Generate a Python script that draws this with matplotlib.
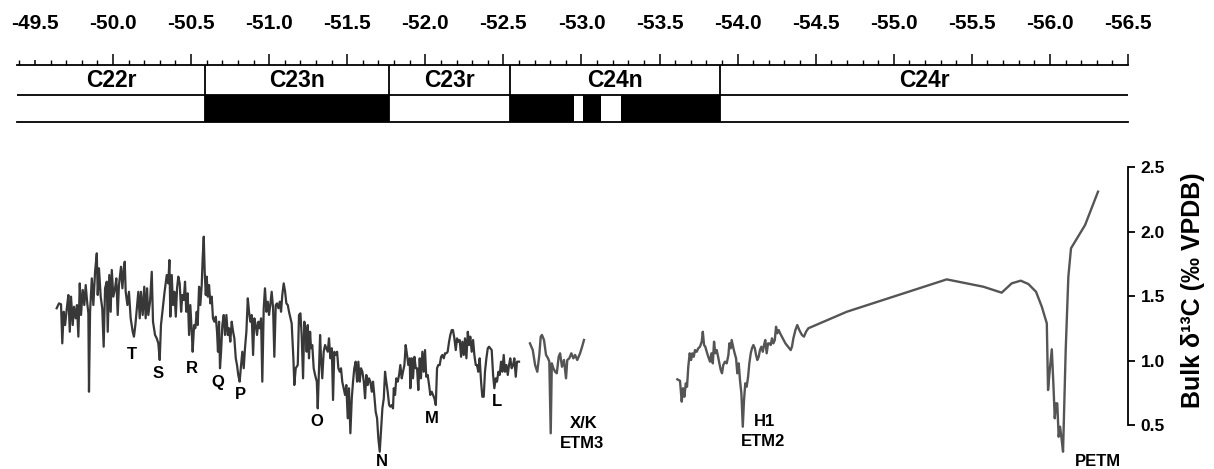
import numpy as np
import matplotlib
matplotlib.use("Agg")
import matplotlib.pyplot as plt

plt.rcParams['font.family'] = ['Liberation Sans', 'DejaVu Sans']
plt.rcParams['font.weight'] = 'bold'
plt.rcParams['axes.labelweight'] = 'bold'

# age (Ma, plotted as negative numbers) and bulk d13C
seg1_age = [
    -49.639, -49.654, -49.667, -49.675, -49.684, -49.693, -49.704, -49.714, -49.723, -49.731,
    -49.742, -49.750, -49.761, -49.769, -49.778, -49.787, -49.795, -49.806, -49.816, -49.825,
    -49.834, -49.842, -49.846, -49.853, -49.864, -49.874, -49.885, -49.896, -49.902, -49.910,
    -49.921, -49.931, -49.940, -49.949, -49.960, -49.966, -49.976, -49.985, -49.992, -50.002,
    -50.013, -50.021, -50.030, -50.038, -50.051, -50.060, -50.069, -50.075, -50.081, -50.092,
    -50.102, -50.113, -50.126, -50.134, -50.143, -50.154, -50.162, -50.171, -50.179, -50.190,
    -50.200, -50.209, -50.218, -50.226, -50.237, -50.248, -50.256, -50.269, -50.280, -50.290,
    -50.299, -50.307, -50.316, -50.329,
    -50.344, -50.354, -50.361, -50.367, -50.376, -50.384, -50.393, -50.402, -50.410, -50.418,
    -50.427, -50.436, -50.444, -50.453, -50.461, -50.469, -50.478, -50.487, -50.495, -50.504,
    -50.510, -50.519, -50.527, -50.536, -50.542, -50.551, -50.559, -50.568, -50.574, -50.581,
    -50.587, -50.594, -50.600, -50.607, -50.615, -50.623, -50.632, -50.640, -50.649, -50.658,
    -50.666, -50.672, -50.679, -50.685, -50.692, -50.700, -50.709, -50.717, -50.726, -50.735,
    -50.743, -50.751, -50.760, -50.769, -50.777, -50.786, -50.794, -50.802, -50.811, -50.820,
    -50.828, -50.837, -50.845, -50.854, -50.863, -50.871, -50.879, -50.888, -50.897, -50.905,
    -50.914, -50.922, -50.931, -50.940, -50.948, -50.956, -50.965, -50.973, -50.982, -50.991,
    -50.999, -51.007, -51.016, -51.025, -51.033, -51.042, -51.050, -51.059, -51.068, -51.076,
    -51.084, -51.093, -51.102, -51.110, -51.119, -51.127,
    -51.144, -51.155, -51.161, -51.170, -51.183, -51.191, -51.200, -51.208, -51.217, -51.225,
    -51.234, -51.240, -51.247, -51.255, -51.262, -51.268, -51.276, -51.285, -51.294, -51.305,
    -51.311, -51.319, -51.326, -51.332, -51.340, -51.349, -51.358, -51.366, -51.375, -51.383,
    -51.392, -51.401, -51.409, -51.417, -51.426, -51.435, -51.443, -51.452, -51.460, -51.468,
    -51.477, -51.486, -51.494, -51.503, -51.511, -51.520, -51.529, -51.537, -51.545, -51.554,
    -51.563, -51.571, -51.580, -51.588, -51.597, -51.606, -51.614, -51.622, -51.631, -51.639,
    -51.648, -51.657, -51.665, -51.673, -51.682, -51.691, -51.699, -51.708, -51.716, -51.725,
    -51.734, -51.742, -51.750, -51.759, -51.768, -51.776, -51.785, -51.793, -51.798, -51.806,
    -51.814, -51.823, -51.832, -51.840, -51.849, -51.857, -51.866, -51.874, -51.883, -51.891,
    -51.900,
    -51.904, -51.913, -51.921, -51.930, -51.939, -51.947, -51.955, -51.964, -51.972, -51.981,
    -51.990, -51.998, -52.006, -52.015, -52.024, -52.032, -52.041, -52.049, -52.058, -52.067,
    -52.075, -52.083, -52.092, -52.101, -52.109, -52.118, -52.126, -52.135, -52.143, -52.152,
    -52.160, -52.169, -52.177, -52.186, -52.195, -52.203, -52.211, -52.220, -52.229, -52.237,
    -52.246, -52.254, -52.263, -52.272, -52.280, -52.288, -52.297, -52.306, -52.314, -52.323,
    -52.331, -52.339, -52.348, -52.357, -52.365, -52.374, -52.382, -52.391, -52.400, -52.408,
    -52.416, -52.425, -52.434, -52.442, -52.451, -52.459, -52.468, -52.476, -52.485, -52.493,
    -52.502, -52.510, -52.519, -52.528, -52.536, -52.544, -52.553, -52.562, -52.570, -52.579,
    -52.587, -52.600,
]
seg1_d13c = [
    1.405, 1.443, 1.436, 1.133, 1.378, 1.275, 1.405, 1.508, 1.223, 1.495,
    1.275, 1.417, 1.327, 1.430, 1.185, 1.598, 1.353, 1.547, 1.430, 1.585,
    1.456, 1.366, 0.758, 1.378, 1.637, 1.430, 1.688, 1.831, 1.508, 1.715,
    1.495, 1.405, 1.107, 1.560, 1.611, 1.223, 1.663, 1.378, 1.702, 1.495,
    1.560, 1.637, 1.353, 1.585, 1.727, 1.560, 1.715, 1.766, 1.533, 1.430,
    1.533, 1.327, 1.223, 1.185, 1.275, 1.430, 1.533, 1.327, 1.533, 1.353,
    1.572, 1.327, 1.560, 1.353, 1.456, 1.688, 1.301, 1.198, 1.172, 1.133,
    1.004, 1.275, 1.378, 1.521,
    1.663, 1.598, 1.779, 1.340, 1.663, 1.430, 1.533, 1.340, 1.560, 1.650,
    1.598, 1.378, 1.508, 1.469, 1.611, 1.378, 1.521, 1.198, 1.430, 1.223,
    1.068, 1.275, 1.250, 1.378, 1.275, 1.572, 1.430, 1.585, 1.792, 1.960,
    1.688, 1.508, 1.650, 1.495, 1.585, 1.443, 1.495, 1.327, 1.301, 1.340,
    1.223, 1.068, 1.301, 0.940, 1.068, 1.275, 1.353, 1.198, 1.353, 1.198,
    1.250, 1.146, 1.301, 1.223, 1.172, 1.017, 0.965, 0.888, 0.836, 0.965,
    1.068, 0.940, 1.095, 1.223, 1.482, 1.378, 1.301, 1.353, 1.043, 1.327,
    1.275, 1.198, 1.301, 1.250, 1.327, 0.836, 1.405, 1.560, 1.378, 1.456,
    1.353, 1.430, 1.533, 1.405, 1.029, 1.430, 1.443, 1.405, 1.456, 1.378,
    1.508, 1.598, 1.533, 1.443, 1.430, 1.378,
    1.288, 1.017, 0.810, 0.940, 0.965, 1.353, 1.366, 1.198, 0.862, 1.301,
    1.223, 1.068, 1.275, 1.017, 1.223, 1.095, 1.120, 0.940, 0.888, 0.836,
    0.629, 0.940, 1.198, 1.017, 0.862, 1.068, 1.120, 1.095, 1.068, 1.172,
    1.017, 1.095, 0.694, 1.068, 1.043, 1.068, 0.940, 0.913, 0.940, 0.836,
    0.785, 0.733, 0.810, 0.552, 0.785, 0.436, 0.707, 0.836, 0.940, 0.991,
    0.836, 0.991, 0.836, 0.940, 0.913, 0.836, 0.707, 0.888, 0.810, 0.862,
    0.836, 0.758, 0.836, 0.733, 0.603, 0.552, 0.397, 0.293, 0.448, 0.629,
    0.707, 0.913, 0.836, 0.758, 0.655, 0.642, 0.655, 0.629, 0.785, 0.733,
    0.862, 0.836, 0.888, 0.965, 0.862, 0.913, 0.965, 1.120, 1.043, 0.965,
    1.017,
    0.785, 1.017, 0.862, 1.029, 0.940, 0.940, 0.771, 1.017, 0.862, 1.068,
    0.913, 1.081, 0.874, 0.888, 0.810, 0.733, 0.758, 0.733, 0.707, 0.655,
    0.940, 0.965, 0.965, 1.029, 1.043, 1.017, 1.056, 1.056, 1.068, 1.146,
    1.198, 1.236, 1.236, 1.172, 1.081, 1.172, 1.146, 1.159, 1.029, 1.146,
    1.043, 1.172, 1.017, 1.223, 1.120, 1.185, 1.068, 1.159, 1.043, 0.965,
    0.965, 0.913, 1.017, 0.836, 0.719, 0.719, 0.913, 1.017, 1.095, 1.107,
    1.095, 1.081, 0.888, 0.785, 0.862, 0.836, 0.913, 0.888, 0.991, 0.913,
    1.043, 0.913, 0.965, 0.888, 0.965, 1.017, 0.940, 0.965, 1.017, 0.874,
    0.991, 0.991,
]

seg2_age = [
    -52.670, -52.688, -52.703, -52.717, -52.730, -52.739, -52.747, -52.760, -52.773, -52.786,
    -52.794, -52.803, -52.810, -52.820, -52.831, -52.842, -52.854, -52.863, -52.875, -52.888,
    -52.901, -52.909, -52.922, -52.935, -52.948, -52.959, -52.973, -52.991, -53.004, -53.016,
]
seg2_d13c = [
    1.133, 1.081, 0.965, 0.913, 1.043, 1.185, 1.198, 1.159, 1.043, 1.017,
    0.991, 0.436, 0.978, 0.940, 0.913, 0.901, 1.029, 1.056, 0.952, 1.004,
    0.862, 1.004, 1.017, 1.056, 1.017, 1.043, 1.004, 1.056, 1.107, 1.159,
]

seg3_age = [
    -53.614, -53.631, -53.642, -53.650, -53.659, -53.668, -53.676, -53.684, -53.693, -53.702,
    -53.710, -53.719, -53.727, -53.738, -53.748, -53.759, -53.770, -53.777, -53.785, -53.793,
    -53.802, -53.812, -53.823, -53.832, -53.841, -53.849, -53.857, -53.866, -53.875, -53.883,
    -53.892, -53.900, -53.908, -53.919, -53.930, -53.941, -53.947, -53.956, -53.962, -53.973,
    -53.981, -53.990, -53.998, -54.007, -54.015, -54.024, -54.033, -54.041, -54.049, -54.058,
    -54.067, -54.075, -54.084, -54.092, -54.101, -54.110, -54.118, -54.126, -54.135, -54.143,
    -54.152, -54.161, -54.169, -54.177, -54.186, -54.195, -54.203, -54.212, -54.220, -54.229,
    -54.238, -54.246, -54.254, -54.263, -54.272, -54.289, -54.306, -54.323, -54.340, -54.348,
    -54.357, -54.370, -54.382, -54.395, -54.412, -54.425, -54.438, -54.453, -54.699, -55.339,
    -55.574, -55.691, -55.755, -55.813, -55.862, -55.911, -55.948, -55.980, -55.988, -55.999,
    -56.012, -56.022, -56.031, -56.039, -56.047, -56.056, -56.065, -56.073, -56.084, -56.101,
    -56.118, -56.135, -56.225, -56.308,
]
seg3_d13c = [
    0.854, 0.843, 0.681, 0.785, 0.719, 0.823, 0.797, 0.952, 1.056, 1.004,
    1.056, 1.029, 1.081, 1.068, 1.095, 1.107, 1.146, 1.223, 1.120, 1.107,
    1.068, 1.029, 0.991, 1.056, 0.978, 1.146, 1.056, 1.081, 1.029, 0.978,
    0.926, 0.901, 0.965, 0.991, 0.978, 1.043, 1.133, 1.095, 1.159, 1.095,
    1.056, 1.017, 0.901, 0.978, 0.849, 0.746, 0.487, 0.694, 0.823, 0.797,
    0.874, 0.978, 1.056, 1.095, 1.120, 1.095, 1.043, 1.004, 1.029, 1.081,
    1.107, 1.068, 1.120, 1.159, 1.056, 1.133, 1.133, 1.120, 1.172, 1.133,
    1.159, 1.262, 1.211, 1.236, 1.211, 1.172, 1.133, 1.107, 1.081, 1.107,
    1.172, 1.236, 1.275, 1.236, 1.198, 1.185, 1.223, 1.250, 1.378, 1.629,
    1.572, 1.526, 1.598, 1.619, 1.593, 1.533, 1.417, 1.288, 0.771, 0.926,
    1.087, 0.823, 0.552, 0.668, 0.668, 0.409, 0.487, 0.409, 0.293, 1.081,
    1.650, 1.870, 2.050, 2.309,
]

# event labels: text, age, d13C position
event_names = ["T", "S", "R", "Q", "P", "O", "N", "M", "L", "X/K", "ETM3", "H1", "ETM2", "PETM"]
event_age = [-50.120, -50.290, -50.504, -50.668, -50.813, -51.305, -51.721, -52.041, -52.457,
             -53.012, -53.002, -54.175, -54.165, -56.310]
event_d13c = [1.043, 0.901, 0.940, 0.831, 0.733, 0.526, 0.216, 0.552, 0.681,
              0.513, 0.358, 0.526, 0.371, 0.216]

# magnetic polarity chrons
chron_names = ["C22r", "C23n", "C23r", "C24n", "C24r"]
chron_edges = [-49.385, -50.59, -51.77, -52.54, -53.89, -56.5]
normal_intervals = [(-50.59, -51.77), (-52.54, -52.95), (-53.01, -53.125), (-53.25, -53.89)]

age_min, age_max = -49.385, -56.5

fig = plt.figure(figsize=(12.14, 4.69), dpi=100)

# ---- polarity scale with the age axis on top ----
ax_top = fig.add_axes([17 / 1214, 1 - 122 / 469, 1111 / 1214, 57 / 469])
ax_top.set_xlim(age_min, age_max)
ax_top.set_ylim(0, 2.11)
ax_top.xaxis.set_ticks_position('top')
major = [-49.5 - 0.5 * i for i in range(15)]
ax_top.set_xticks(major)
ax_top.set_xticklabels([f"{v:.1f}" for v in major])
ax_top.set_xticks(np.arange(-49.4, -56.55, -0.1), minor=True)
ax_top.tick_params(axis='x', which='major', length=8, width=1.1, pad=15, labelsize=15)
ax_top.tick_params(axis='x', which='minor', length=3.6, width=1.0)
ax_top.xaxis.get_major_ticks()[0].tick2line.set_markersize(3.6)
ax_top.set_yticks([])
for side in ('left', 'right'):
    ax_top.spines[side].set_visible(False)
for side in ('top', 'bottom'):
    ax_top.spines[side].set_linewidth(1.3)
ax_top.axhline(1, color='k', lw=1.3)
ax_top.vlines(chron_edges[1:-1], 0, 2.11, colors='k', lw=1.3)
for a, b in normal_intervals:
    ax_top.fill_betweenx([0, 1], a, b, color='k', lw=0)
for name, a, b in zip(chron_names, chron_edges[:-1], chron_edges[1:]):
    ax_top.text((a + b) / 2, 1.55, name, ha='center', va='center', fontsize=16.5)

# ---- carbon isotope record ----
ax = fig.add_axes([17 / 1214, 0, 1111 / 1214, 319 / 469])
ax.patch.set_visible(False)
ax.set_xlim(age_min, age_max)
ax.set_ylim(0.159, 2.632)
ax.plot(seg1_age, seg1_d13c, color="#383838", lw=1.6)
ax.plot(seg2_age, seg2_d13c, color="#555555", lw=1.7)
ax.plot(seg3_age, seg3_d13c, color="#555555", lw=1.7)

for side in ('left', 'top', 'bottom'):
    ax.spines[side].set_visible(False)
ax.spines['right'].set_bounds(0.5, 2.5)
ax.spines['right'].set_linewidth(1.3)
ax.set_xticks([])
ax.yaxis.tick_right()
ax.set_yticks([0.5, 1.0, 1.5, 2.0, 2.5])
ax.set_yticklabels(["0.5", "1.0", "1.5", "2.0", "2.5"])
ax.tick_params(axis='y', length=5, width=1.3, pad=4, labelsize=12.5)
ax.yaxis.set_label_position('right')
ax.set_ylabel("Bulk δ¹³C (‰ VPDB)", fontsize=18)
ax.yaxis.set_label_coords(1.048, 0.561)

for name, x, y in zip(event_names, event_age, event_d13c):
    ax.text(x, y, name, ha='center', va='center', fontsize=12, clip_on=False)

fig.savefig("out.png", dpi=100)
